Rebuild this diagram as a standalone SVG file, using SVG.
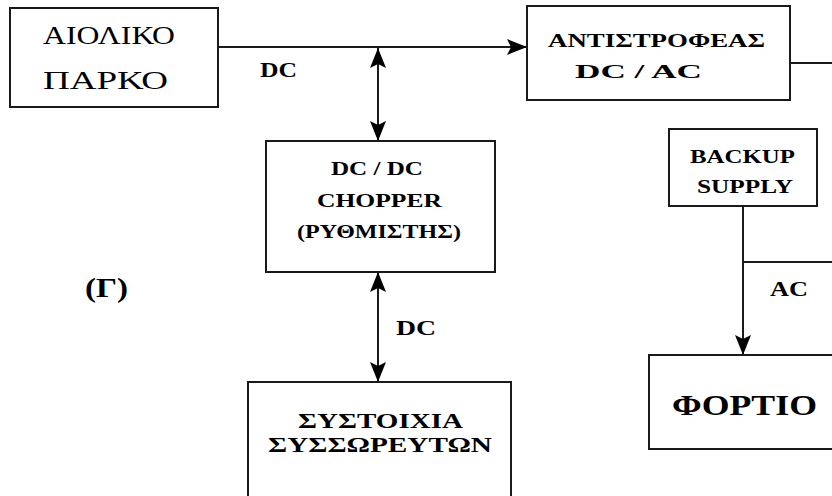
<svg xmlns="http://www.w3.org/2000/svg" width="832" height="496" viewBox="0 0 832 496">
  <defs>
    <marker id="head" viewBox="0 0 20 16" refX="20" refY="8" markerWidth="20" markerHeight="16" markerUnits="userSpaceOnUse" orient="auto-start-reverse">
      <path d="M0,0 L20,8 L0,16 L4,8 Z" fill="#000000"/>
    </marker>
  </defs>
  <rect width="832" height="496" fill="#ffffff"/>

  <!-- connectors -->
  <g id="connectors" stroke="#1a1a1a" stroke-width="2" fill="none">
    <line x1="218" y1="47" x2="527" y2="47" marker-end="url(#head)"/>
    <line x1="378" y1="48" x2="378" y2="141" marker-start="url(#head)" marker-end="url(#head)"/>
    <line x1="378" y1="272" x2="378" y2="382" marker-start="url(#head)" marker-end="url(#head)"/>
    <line x1="790" y1="63" x2="834" y2="63"/>
    <line x1="743" y1="206" x2="743" y2="355" marker-end="url(#head)"/>
    <line x1="743" y1="262" x2="834" y2="262"/>
  </g>

  <!-- connector labels -->
  <g id="connector-labels" font-family="'Liberation Serif', serif" font-weight="bold" fill="#000000">
    <text x="260" y="77" font-size="20" textLength="37" lengthAdjust="spacingAndGlyphs">DC</text>
    <text x="396" y="335" font-size="20" textLength="40" lengthAdjust="spacingAndGlyphs">DC</text>
    <text x="770" y="296" font-size="22" textLength="38" lengthAdjust="spacingAndGlyphs">AC</text>
  </g>

  <!-- blocks -->
  <g fill="#ffffff" stroke="#1a1a1a" stroke-width="2">
    <rect id="wind-park-box" x="10" y="8" width="208" height="99"/>
    <rect id="inverter-box" x="527" y="6" width="263" height="94"/>
    <rect id="chopper-box" x="266" y="141" width="229" height="131"/>
    <rect id="battery-box" x="248" y="382" width="263" height="130"/>
    <rect id="backup-box" x="669" y="129" width="148" height="77"/>
    <rect id="load-box" x="649" y="355" width="200" height="94"/>
  </g>

  <g font-family="'Liberation Serif', serif" font-weight="bold" fill="#000000">
    <g id="wind-park" font-weight="normal">
      <text x="43" y="44" font-size="26" textLength="132" lengthAdjust="spacingAndGlyphs">ΑΙΟΛΙΚΟ</text>
      <text x="43" y="89" font-size="26" textLength="125" lengthAdjust="spacingAndGlyphs">ΠΑΡΚΟ</text>
    </g>
    <g id="inverter">
      <text x="548" y="47" font-size="19" textLength="217" lengthAdjust="spacingAndGlyphs">ΑΝΤΙΣΤΡΟΦΕΑΣ</text>
      <text x="575" y="78" font-size="19" textLength="127" lengthAdjust="spacingAndGlyphs">DC / AC</text>
    </g>
    <g id="chopper">
      <text x="331" y="175" font-size="19" textLength="92" lengthAdjust="spacingAndGlyphs">DC / DC</text>
      <text x="317" y="207" font-size="19" textLength="125" lengthAdjust="spacingAndGlyphs">CHOPPER</text>
      <text x="297" y="238" font-size="19" textLength="164" lengthAdjust="spacingAndGlyphs">(ΡΥΘΜΙΣΤΗΣ)</text>
    </g>
    <g id="battery">
      <text x="298" y="428" font-size="20" textLength="165" lengthAdjust="spacingAndGlyphs">ΣΥΣΤΟΙΧΙΑ</text>
      <text x="268" y="452" font-size="20" textLength="224" lengthAdjust="spacingAndGlyphs">ΣΥΣΣΩΡΕΥΤΩΝ</text>
    </g>
    <g id="backup">
      <text x="690" y="163" font-size="19" textLength="105" lengthAdjust="spacingAndGlyphs">BACKUP</text>
      <text x="697" y="193" font-size="19" textLength="96" lengthAdjust="spacingAndGlyphs">SUPPLY</text>
    </g>
    <g id="load">
      <text x="672" y="415" font-size="29" textLength="145" lengthAdjust="spacingAndGlyphs">ΦΟΡΤΙΟ</text>
    </g>
    <g id="label-g">
      <text x="85" y="297" font-size="27" textLength="43" lengthAdjust="spacingAndGlyphs">(Γ)</text>
    </g>
  </g>
</svg>
